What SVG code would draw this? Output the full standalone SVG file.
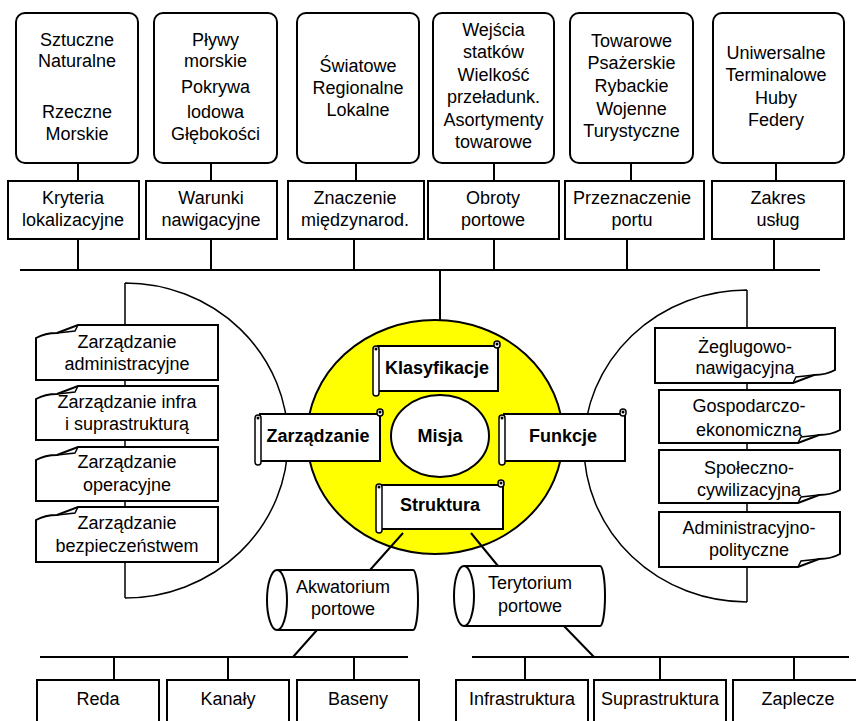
<svg xmlns="http://www.w3.org/2000/svg" width="856" height="721" viewBox="0 0 856 721">
<style>
text{font-family:"Liberation Sans",Arial,sans-serif;font-size:18px;fill:#000;text-anchor:middle}
.b{font-weight:bold}
.box{fill:#fff;stroke:#000;stroke-width:2}
.ln{fill:none;stroke:#000;stroke-width:2}
.thin{fill:none;stroke:#000;stroke-width:1.5}
.roll{fill:#fff;stroke:#000;stroke-width:1.5}
</style>
<rect width="856" height="721" fill="#fff"/>
<g id="connectors">
<path class="ln" d="M20,270H820 M78,163V181 M211,163V181 M356,163V181 M494,163V181 M631,163V181 M776,163V181 M78,239V270 M211,239V270 M354,239V270 M494,239V270 M627,239V270 M774,239V270 M440,270V346"/>
<path class="ln" d="M40,657H408 M472,657H849 M114,657V680 M228,657V680 M354,657V680 M525,657V680 M660,657V680 M794,657V680 M317,630L293,657 M563,625L594,657"/>
</g>
<g id="brackets">
<path class="thin" d="M125,283V598 M125,283A163,157.5 0 0 1 125,598"/>
<path class="thin" d="M747,290V602 M747,290A163,156 0 0 0 747,602"/>
</g>
<g id="mission-circle">
<ellipse cx="435" cy="437" rx="128" ry="117" fill="#ffff00" stroke="#000" stroke-width="2"/>
</g>
<g id="struct-links">
<path class="ln" d="M403,533L370,570 M471,533L498,566"/>
</g>
<g id="top1"><rect class="box" x="16" y="13" width="122" height="150" rx="9"/><text x="77" y="46">Sztuczne</text><text x="77" y="67">Naturalne</text><text x="77" y="118">Rzeczne</text><text x="77" y="140">Morskie</text></g>
<g id="top2"><rect class="box" x="154" y="13" width="123" height="150" rx="9"/><text x="215.5" y="46">Pływy</text><text x="215.5" y="67">morskie</text><text x="215.5" y="93">Pokrywa</text><text x="215.5" y="118">lodowa</text><text x="215.5" y="140">Głębokości</text></g>
<g id="top3"><rect class="box" x="297" y="13" width="122" height="150" rx="9"/><text x="358" y="72">Światowe</text><text x="358" y="94">Regionalne</text><text x="358" y="116">Lokalne</text></g>
<g id="top4"><rect class="box" x="433" y="13" width="121" height="150" rx="9"/><text x="493.5" y="36">Wejścia</text><text x="493.5" y="58">statków</text><text x="493.5" y="81">Wielkość</text><text x="493.5" y="103">przeładunk.</text><text x="493.5" y="126">Asortymenty</text><text x="493.5" y="148">towarowe</text></g>
<g id="top5"><rect class="box" x="570" y="13" width="123" height="150" rx="9"/><text x="631.5" y="47">Towarowe</text><text x="631.5" y="69">Psażerskie</text><text x="631.5" y="92">Rybackie</text><text x="631.5" y="115">Wojenne</text><text x="631.5" y="137">Turystyczne</text></g>
<g id="top6"><rect class="box" x="713" y="13" width="131" height="150" rx="9"/><text x="776" y="59">Uniwersalne</text><text x="776" y="81">Terminalowe</text><text x="776" y="104">Huby</text><text x="776" y="126">Federy</text></g>
<g id="cat1"><rect class="box" x="8" y="181" width="131" height="58"/><text x="73" y="204">Kryteria</text><text x="73" y="226">lokalizacyjne</text></g>
<g id="cat2"><rect class="box" x="146" y="181" width="131" height="58"/><text x="211" y="204">Warunki</text><text x="211" y="226">nawigacyjne</text></g>
<g id="cat3"><rect class="box" x="288" y="181" width="136" height="58"/><text x="355" y="204">Znaczenie</text><text x="355" y="226">międzynarod.</text></g>
<g id="cat4"><rect class="box" x="428" y="181" width="131" height="58"/><text x="493" y="204">Obroty</text><text x="493" y="226">portowe</text></g>
<g id="cat5"><rect class="box" x="565" y="181" width="139" height="58"/><text x="632" y="204">Przeznaczenie</text><text x="632" y="226">portu</text></g>
<g id="cat6"><rect class="box" x="712" y="181" width="132" height="58"/><text x="778" y="204">Zakres</text><text x="778" y="226">usług</text></g>
<g id="mgmt1"><path class="box" d="M78,325H218V380H36V338Q45,333 57,333Z"/><path class="thin" d="M78,325L75,331L57,333"/><text x="127" y="348">Zarządzanie</text><text x="127" y="370">administracyjne</text></g>
<g id="mgmt2"><path class="box" d="M78,386H218V440H36V399Q45,394 57,394Z"/><path class="thin" d="M78,386L75,392L57,394"/><text x="127" y="408">Zarządzanie infra</text><text x="127" y="430">i suprastrukturą</text></g>
<g id="mgmt3"><path class="box" d="M78,447H218V501H36V460Q45,455 57,455Z"/><path class="thin" d="M78,447L75,453L57,455"/><text x="127" y="468">Zarządzanie</text><text x="127" y="491">operacyjne</text></g>
<g id="mgmt4"><path class="box" d="M78,507H218V562H36V520Q45,515 57,515Z"/><path class="thin" d="M78,507L75,513L57,515"/><text x="127" y="529">Zarządzanie</text><text x="127" y="552">bezpieczeństwem</text></g>
<g id="func1"><path class="box" d="M655,328H835V370Q826,375 814,375L793,383H655Z"/><path class="thin" d="M793,383L796,377L814,375"/><text x="745" y="353">Żeglugowo-</text><text x="745" y="374">nawigacyjna</text></g>
<g id="func2"><path class="box" d="M659,390H840V430Q831,435 819,435L798,443H659Z"/><path class="thin" d="M798,443L801,437L819,435"/><text x="749" y="412">Gospodarczo-</text><text x="749" y="436">ekonomiczna</text></g>
<g id="func3"><path class="box" d="M659,450H840V490Q831,495 819,495L798,503H659Z"/><path class="thin" d="M798,503L801,497L819,495"/><text x="749" y="474">Społeczno-</text><text x="749" y="496">cywilizacyjna</text></g>
<g id="func4"><path class="box" d="M659,512H840V554Q831,559 819,559L798,567H659Z"/><path class="thin" d="M798,567L801,561L819,559"/><text x="749" y="534">Administracyjno-</text><text x="749" y="556">polityczne</text></g>
<g id="misja"><ellipse class="box" cx="440" cy="436" rx="49" ry="41"/><text class="b" x="440" y="442">Misja</text></g>
<g id="klasyfikacje"><rect class="box" x="378" y="346" width="120" height="45"/><rect class="roll" x="373" y="346" width="6" height="50" rx="3"/><rect class="roll" x="494" y="341" width="6" height="7" rx="3"/><circle cx="497" cy="344" r="1.5"/><circle cx="376" cy="349" r="1.5"/><text class="b" x="437" y="374">Klasyfikacje</text></g>
<g id="zarzadzanie"><rect class="box" x="260" y="414" width="120" height="47"/><rect class="roll" x="255" y="415" width="6" height="50" rx="3"/><rect class="roll" x="377" y="409" width="6" height="7" rx="3"/><circle cx="380" cy="412" r="1.5"/><circle cx="258" cy="418" r="1.5"/><text class="b" x="318" y="442">Zarządzanie</text></g>
<g id="funkcje"><rect class="box" x="504" y="414" width="121" height="47"/><rect class="roll" x="499" y="415" width="6" height="50" rx="3"/><rect class="roll" x="620" y="409" width="6" height="7" rx="3"/><circle cx="623" cy="412" r="1.5"/><circle cx="502" cy="418" r="1.5"/><text class="b" x="563" y="442">Funkcje</text></g>
<g id="struktura"><rect class="box" x="381" y="485" width="122" height="44"/><rect class="roll" x="376" y="484" width="6" height="49" rx="3"/><rect class="roll" x="498" y="480" width="6" height="7" rx="3"/><circle cx="501" cy="483" r="1.5"/><circle cx="379" cy="487" r="1.5"/><text class="b" x="440" y="511">Struktura</text></g>
<g id="akwatorium"><path class="box" d="M277,570H413A5,30 0 0 1 413,630H277"/><ellipse class="box" cx="277" cy="600" rx="10" ry="30"/><text x="343" y="593">Akwatorium</text><text x="343" y="615">portowe</text></g>
<g id="terytorium"><path class="box" d="M464,566H600A5,30 0 0 1 600,626H464"/><ellipse class="box" cx="464" cy="596" rx="10" ry="30"/><text x="530" y="589">Terytorium</text><text x="530" y="612">portowe</text></g>
<g id="reda"><rect class="box" x="37" y="680" width="122" height="50"/><text x="98" y="705">Reda</text></g>
<g id="kanaly"><rect class="box" x="167" y="680" width="122" height="50"/><text x="228" y="705">Kanały</text></g>
<g id="baseny"><rect class="box" x="297" y="680" width="122" height="50"/><text x="358" y="705">Baseny</text></g>
<g id="infrastruktura"><rect class="box" x="456" y="680" width="132" height="50"/><text x="522" y="705">Infrastruktura</text></g>
<g id="suprastruktura"><rect class="box" x="594" y="680" width="132" height="50"/><text x="660" y="705">Suprastruktura</text></g>
<g id="zaplecze"><rect class="box" x="733" y="680" width="132" height="50"/><text x="798" y="705">Zaplecze</text></g>
</svg>
